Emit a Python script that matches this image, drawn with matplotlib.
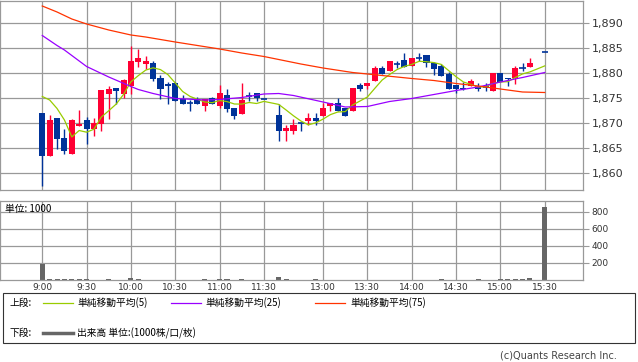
import matplotlib.pyplot as plt
import numpy as np
import pandas as pd
from matplotlib.patches import Rectangle
from matplotlib.lines import Line2D

plt.rcParams['font.family'] = ['DejaVu Sans', 'Noto Sans CJK JP']
JP = ['Noto Sans CJK JP', 'DejaVu Sans']

nan = np.nan
# 5-minute bars, index 31 (lunch) and 67 (15:25) are empty slots
opens = [1872, 1863.5, 1871, 1867, 1863.8, 1869.4, 1870.7, 1868.8, 1869.9, 1875.9,
         1876.9, 1875.9, 1877.5, 1882.2, 1881.9, 1882.1, 1879.1, 1877.7, 1878, 1874.8,
         1874, 1874.8, 1873.5, 1875, 1873.5, 1875.6, 1873.1, 1871.9, 1875.5, 1876,
         1874.9, nan, 1871.6, 1868.5, 1868.4, 1870.1, 1870.4, 1871.1, 1871.5, 1873.5,
         1874.1, 1873.1, 1872.5, 1877.7, 1877.5, 1878.5, 1881.1, 1880.5, 1881.9, 1882.5,
         1881.5, 1883.1, 1883.5, 1882.1, 1881.5, 1879.9, 1877.7, 1877, 1877.5, 1877.4,
         1877.3, 1876.5, 1880.1, 1879, 1879, 1881, 1881.3, nan, 1884.3]
highs = [1872, 1871.6, 1871, 1868.8, 1870.9, 1872.7, 1871.3, 1871, 1876.7, 1877.5,
         1876.9, 1878.9, 1885.4, 1884.9, 1883.4, 1882.5, 1879.7, 1878.3, 1878.3, 1875.7,
         1874.6, 1875.2, 1874.8, 1875.3, 1877.7, 1876.8, 1873.1, 1878, 1876.2, 1876,
         1874.9, nan, 1873.9, 1869.7, 1870.9, 1870.1, 1872.1, 1872.1, 1874, 1874.1,
         1875, 1873.1, 1877, 1878.1, 1878.1, 1881.5, 1881.5, 1882.5, 1882.5, 1884.1,
         1883.1, 1884.1, 1883.5, 1882.3, 1881.9, 1880.3, 1877.7, 1878.2, 1878.8, 1878,
         1878, 1880.1, 1880.1, 1879, 1881.5, 1882.1, 1883.1, nan, 1884.3]
lows = [1857.5, 1863.5, 1864.8, 1863.8, 1863.8, 1869.4, 1865.8, 1867.5, 1868.5, 1870.9,
        1873.8, 1875, 1875.9, 1881.3, 1880.9, 1878.5, 1874.9, 1873.9, 1874.5, 1873.9,
        1872.5, 1873.9, 1872.5, 1873.8, 1873, 1872.3, 1870.8, 1871.9, 1874.5, 1874.5,
        1874.9, nan, 1866.5, 1866.5, 1867.8, 1868.5, 1869.6, 1869.7, 1871.5, 1872.5,
        1872.5, 1871.5, 1872.5, 1876.5, 1876.9, 1878.5, 1879.9, 1880.5, 1881.1, 1881.3,
        1881.5, 1882.5, 1881.3, 1879.7, 1879.5, 1876.9, 1876.1, 1876.6, 1877.5, 1876.5,
        1876.5, 1876.5, 1878.3, 1877.5, 1877.9, 1880.5, 1881.3, nan, 1884.3]
closes = [1863.5, 1870.6, 1866.9, 1864.5, 1870.6, 1869.9, 1868.9, 1869.9, 1876.7, 1876.9,
          1876.5, 1878.6, 1882.5, 1882.9, 1882.4, 1878.8, 1876.8, 1877.5, 1874.5, 1873.9,
          1873.9, 1873.9, 1874.8, 1873.8, 1876.1, 1872.8, 1871.5, 1874.7, 1875.4, 1875.1,
          1874.9, nan, 1868.5, 1869.1, 1869.6, 1869.9, 1871.1, 1870.4, 1872.9, 1874.1,
          1872.5, 1871.5, 1877, 1876.9, 1878.1, 1881.1, 1879.9, 1882.5, 1881.8, 1881.3,
          1883.1, 1883, 1882.1, 1880.9, 1879.5, 1876.9, 1876.9, 1876.8, 1878.5, 1876.9,
          1877.2, 1880.1, 1878.3, 1878.8, 1881, 1880.9, 1882.1, nan, 1884.3]
volume = [190, 12, 12, 10, 12, 8, 10, 3, 3, 10,
          3, 3, 28, 12, 3, 2, 2, 2, 2, 2,
          2, 2, 12, 2, 12, 12, 2, 12, 2, 2,
          2, 0, 40, 12, 2, 2, 2, 12, 2, 2,
          2, 2, 2, 2, 2, 2, 2, 2, 2, 2,
          2, 2, 2, 2, 12, 2, 2, 2, 2, 12,
          2, 2, 12, 12, 12, 12, 25, 0, 860]

# first four 5-bar averages (depend on previous day)
ma5_head = [1875.3, 1874.6, 1872.9, 1870.6]
ma25_at = [0, 2, 3, 6, 9, 12, 13, 15, 18, 22, 24, 27, 30, 32, 34, 38, 41, 44, 47, 50, 53, 56, 59, 62, 65, 68]
ma25_val = [1887.5, 1885.5, 1884.6, 1881.3, 1879.2, 1877.3, 1876.7, 1875.9, 1874.9, 1874.6, 1874.7, 1875.1,
            1875.8, 1875.9, 1875.5, 1874.2, 1873.2, 1873.3, 1874.3, 1874.9, 1875.7, 1876.5, 1877.2,
            1878.2, 1879.1, 1880.1]
ma75_at = [0, 2, 4, 6, 9, 12, 14, 18, 21, 24, 27, 30, 32, 35, 38, 42, 46, 50, 53, 56, 59, 61, 63, 65, 68]
ma75_val = [1893.4, 1892.2, 1890.8, 1889.8, 1888.6, 1887.6, 1887.2, 1886.2, 1885.5, 1884.8, 1884.0,
            1883.3, 1882.7, 1881.8, 1881.0, 1880.1, 1879.5, 1878.9, 1878.5, 1877.9, 1877.4, 1877.0,
            1876.6, 1876.2, 1876.1]

tick_pos = [0, 6, 12, 18, 24, 30, 38, 44, 50, 56, 62, 68]
tick_labels = ['9:00', '9:30', '10:00', '10:30', '11:00', '11:30',
               '13:00', '13:30', '14:00', '14:30', '15:00', '15:30']
price_ticks = [1860, 1865, 1870, 1875, 1880, 1885, 1890]
vol_ticks = [200, 400, 600, 800]

RED = '#ff0033'
BLUE = '#003399'
GRID = '#999999'

W, H = 638, 362
fig = plt.figure(figsize=(W / 100, H / 100), dpi=100)

def box(x0, y0, x1, y1):
    return [x0 / W, 1 - y1 / H, (x1 - x0) / W, (y1 - y0) / H]

ax1 = fig.add_axes(box(0, 0.5, 583, 190))
ax2 = fig.add_axes(box(0, 201, 583, 280))

xlim = (-5.72, 73.18)
for ax in (ax1, ax2):
    ax.set_xlim(*xlim)
    ax.set_xticks(tick_pos)
    ax.grid(True, color=GRID, lw=0.9)
    ax.set_axisbelow(True)
    for s in ax.spines.values():
        s.set_color(GRID)
        s.set_linewidth(0.9)
    ax.yaxis.tick_right()
    ax.tick_params(axis='y', direction='out', length=4, color=GRID, pad=2)
    ax.tick_params(axis='x', length=0)

# --- price panel ---
o = np.array(opens, float)
h = np.array(highs, float)
l = np.array(lows, float)
c = np.array(closes, float)
idx = np.arange(len(c))
for i in idx[~np.isnan(c)]:
    col = RED if c[i] > o[i] else BLUE
    ax1.vlines(i, l[i], h[i], color=col, lw=1.0, zorder=2)
    if abs(c[i] - o[i]) < 0.2:
        ax1.hlines(o[i], i - 0.42, i + 0.42, color=col, lw=1.2, zorder=2)
    else:
        ax1.bar(i, abs(c[i] - o[i]), bottom=min(o[i], c[i]), width=0.82,
                color=col, linewidth=0, zorder=2)

cs = pd.Series(c).dropna()
ma5 = cs.rolling(5).mean()
ma5.iloc[:4] = ma5_head
ax1.plot(ma5.index, ma5.values, color='#99cc00', lw=0.9, zorder=3)
ax1.plot(ma25_at, ma25_val, color='#9900ff', lw=0.9, zorder=3)
ax1.plot(ma75_at, ma75_val, color='#ff3300', lw=0.9, zorder=3)

ax1.set_ylim(1856.6, 1894.5)
ax1.set_yticks(price_ticks)
ax1.set_yticklabels([f'{v:,}' for v in price_ticks], fontsize=8, color='#333333')
ax1.set_xticklabels([])

# --- volume panel ---
ax2.bar(idx, volume, width=0.68, color='#666666', linewidth=0, zorder=2)
ax2.set_ylim(0, 929)
ax2.set_yticks(vol_ticks)
ax2.set_yticklabels([str(v) for v in vol_ticks], fontsize=6.5, color='#333333')
ax2.set_xticklabels(tick_labels, fontsize=6.5, color='#333333')
ax2.tick_params(axis='x', pad=2)
ax2.text(0.008, 0.9, '単位: 1000', transform=ax2.transAxes, fontsize=7,
         family=JP, va='center', ha='left')

# --- legend box ---
fx = lambda px: px / W
fy = lambda py: 1 - py / H
fig.patches.append(Rectangle((fx(3), fy(343)), fx(632), (343 - 293) / H,
                             transform=fig.transFigure, fill=False,
                             edgecolor='#333333', lw=0.8))
r1, r2 = 303, 333
fig.text(fx(10), fy(r1), '上段:', fontsize=7, family=JP, va='center')
legend_items = [(43, 73, 77, '#99cc00', '単純移動平均(5)'),
                (171, 201, 205, '#9900ff', '単純移動平均(25)'),
                (315, 345, 350, '#ff3300', '単純移動平均(75)')]
for x0, x1, tx, col, lab in legend_items:
    fig.add_artist(Line2D([fx(x0), fx(x1)], [fy(r1), fy(r1)], color=col, lw=0.9,
                          transform=fig.transFigure))
    fig.text(fx(tx), fy(r1), lab, fontsize=7, family=JP, va='center')
fig.text(fx(10), fy(r2), '下段:', fontsize=7, family=JP, va='center')
fig.add_artist(Line2D([fx(43), fx(73)], [fy(r2), fy(r2)], color='#666666', lw=2.5,
                      transform=fig.transFigure))
fig.text(fx(77), fy(r2), '出来高 単位:(1000株/口/枚)', fontsize=7, family=JP, va='center')

fig.text(fx(617), fy(355), '(c)Quants Research Inc.', fontsize=7, color='#444444',
         ha='right', va='center')

fig.savefig('out.png', dpi=100)
